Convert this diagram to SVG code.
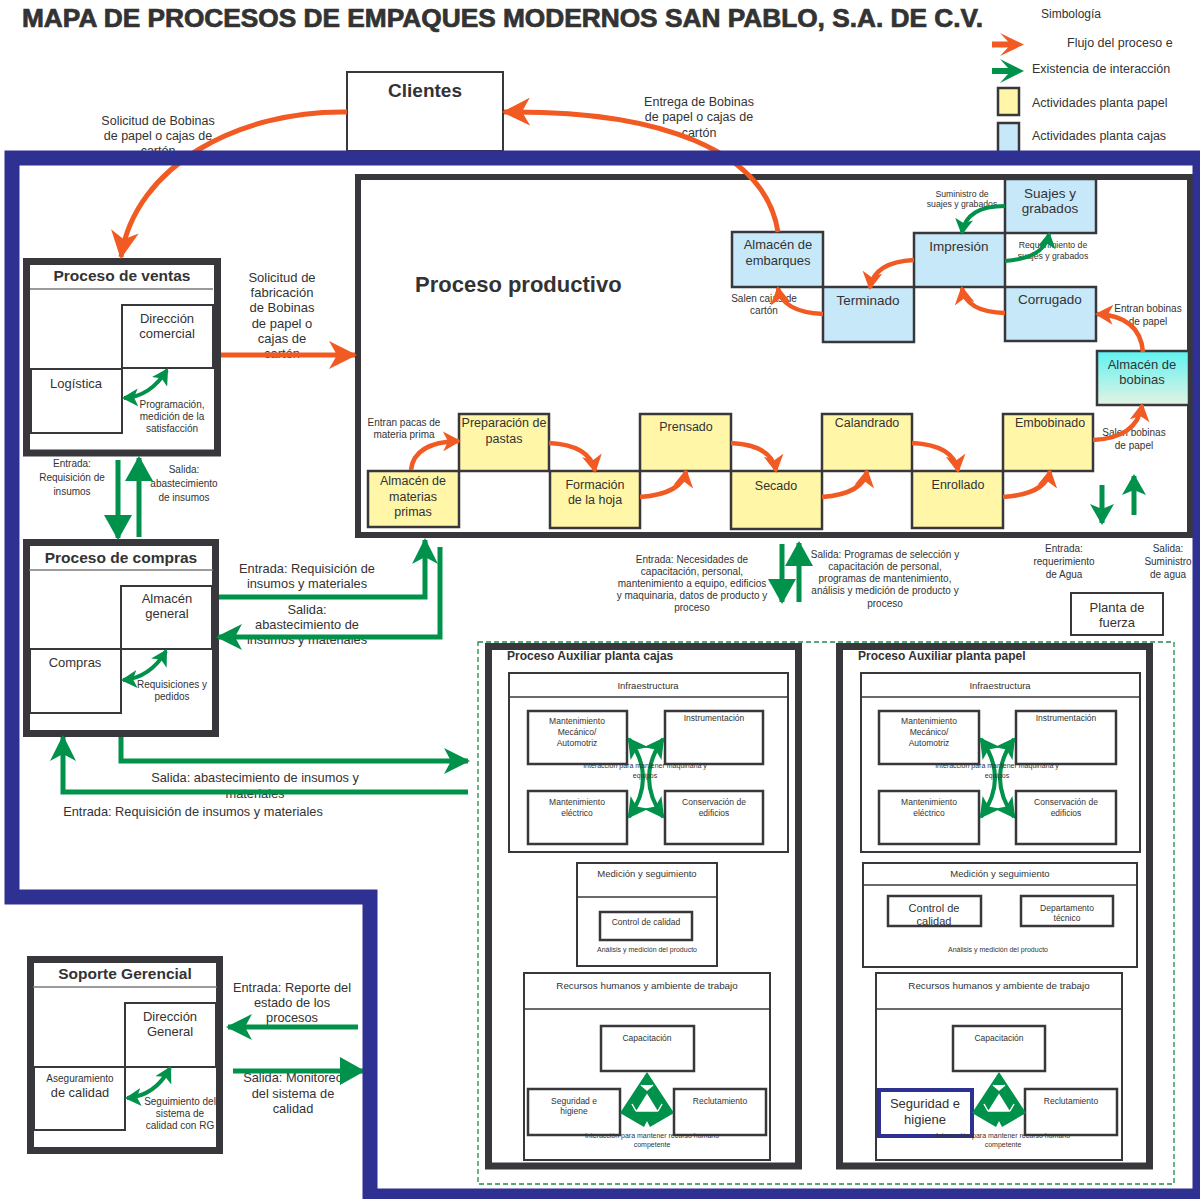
<svg xmlns="http://www.w3.org/2000/svg" width="1200" height="1199" viewBox="0 0 1200 1199">
<defs>
<style>
text{font-family:"Liberation Sans",Arial,Helvetica,sans-serif;fill:#333}
.c{text-anchor:middle}
.bd{font-weight:bold}
.fr{fill:#fff;stroke:#38373b;stroke-width:7}
.fr6{fill:#fff;stroke:#38373b;stroke-width:6}
.ln{stroke:#7a7a7a;stroke-width:1.5;fill:none}
.bx{fill:#fff;stroke:#38373b;stroke-width:2}
.bx2{fill:#fff;stroke:#38373b;stroke-width:2.5}
.yb{fill:#fff6a8;stroke:#38373b;stroke-width:2.5}
.bb{fill:#c7e8f8;stroke:#38373b;stroke-width:2.5}
.or{fill:none;stroke:#f15a22;stroke-width:5}
.ors{fill:none;stroke:#f15a22;stroke-width:4.5}
.gr{fill:none;stroke:#00914a;stroke-width:5}
.grs{fill:none;stroke:#00914a;stroke-width:4}
.grt{fill:none;stroke:#00914a;stroke-width:4}
</style>
<linearGradient id="gbob" x1="0" y1="0" x2="0" y2="1">
<stop offset="0" stop-color="#5ff2f2"/>
<stop offset="1" stop-color="#e3f3e2"/>
</linearGradient>
<clipPath id="ccp"><rect x="889" y="897" width="91" height="28"/></clipPath>
<marker id="mo" markerUnits="userSpaceOnUse" viewBox="0 0 28 28" refX="26" refY="14" markerWidth="28" markerHeight="28" orient="auto"><path d="M0,0 L28,14 L0,28 L8,14 Z" fill="#f15a22"/></marker>
<marker id="mos" markerUnits="userSpaceOnUse" viewBox="0 0 18 20" refX="16" refY="10" markerWidth="18" markerHeight="20" orient="auto"><path d="M0,0 L18,10 L0,20 L5,10 Z" fill="#f15a22"/></marker>
<marker id="mgb" markerUnits="userSpaceOnUse" viewBox="0 0 25 28" refX="23" refY="14" markerWidth="25" markerHeight="28" orient="auto"><path d="M0,0 L25,14 L0,28 Z" fill="#00914a"/></marker>
<marker id="mgn" markerUnits="userSpaceOnUse" viewBox="0 0 26 26" refX="24" refY="13" markerWidth="26" markerHeight="26" orient="auto"><path d="M0,0 L26,13 L0,26 L7,13 Z" fill="#00914a"/></marker>
<marker id="mgm" markerUnits="userSpaceOnUse" viewBox="0 0 21 24" refX="19" refY="12" markerWidth="21" markerHeight="24" orient="auto"><path d="M0,0 L21,12 L0,24 L5,12 Z" fill="#00914a"/></marker>
<marker id="mgs" markerUnits="userSpaceOnUse" viewBox="0 0 16 18" refX="14" refY="9" markerWidth="16" markerHeight="18" orient="auto-start-reverse"><path d="M0,0 L16,9 L0,18 L4,9 Z" fill="#00914a"/></marker>
<marker id="mgs1" markerUnits="userSpaceOnUse" viewBox="0 0 16 18" refX="14" refY="9" markerWidth="16" markerHeight="18" orient="auto"><path d="M0,0 L16,9 L0,18 L4,9 Z" fill="#00914a"/></marker>
<marker id="mgt" markerUnits="userSpaceOnUse" viewBox="0 0 20 22" refX="18" refY="11" markerWidth="20" markerHeight="22" orient="auto-start-reverse"><path d="M0,0 L20,11 L0,22 L5,11 Z" fill="#00914a"/></marker>
</defs>
<rect x="0" y="0" width="1200" height="1199" fill="#fff"/>

<text x="22" y="27" font-size="25" class="bd" textLength="961" lengthAdjust="spacingAndGlyphs" stroke="#333" stroke-width="0.7">MAPA DE PROCESOS DE EMPAQUES MODERNOS SAN PABLO, S.A. DE C.V.</text>

<g id="legend">
<text x="1041" y="18" font-size="12">Simbología</text>
<path d="M992,41.5 H1008 L1000,33 L1024,44.5 L1000,56 L1008,47.5 H992 Z" fill="#f15a22"/>
<text x="1067" y="47" font-size="12.5">Flujo del proceso e</text>
<path d="M992,68 H1008 L1000,59 L1024,71 L1000,83 L1008,74 H992 Z" fill="#00914a"/>
<text x="1032" y="73" font-size="12.5">Existencia de interacción</text>
<rect x="998" y="88" width="21" height="27" class="yb"/>
<text x="1032" y="107" font-size="12.5">Actividades planta papel</text>
<rect x="998" y="123" width="21" height="32" class="bb"/>
<text x="1032" y="140" font-size="12.5">Actividades planta cajas</text>
</g>

<g id="clientes">
<rect x="347" y="72" width="156" height="79" class="bx"/>
<text x="425" y="97" font-size="19" class="c bd">Clientes</text>
</g>

<g id="ventas">
<rect x="26.5" y="261.5" width="191" height="191.5" class="fr"/>
<line x1="30" y1="289" x2="213" y2="289" class="ln"/>
<text x="122" y="281" font-size="15.5" class="c bd">Proceso de ventas</text>
<rect x="122" y="305" width="91" height="63" class="bx"/>
<text x="167" y="323" font-size="13" class="c">Dirección</text>
<text x="167" y="338" font-size="13" class="c">comercial</text>
<rect x="31" y="369" width="91" height="64" class="bx"/>
<text x="76" y="388" font-size="13" class="c">Logística</text>
<text x="172" y="408" font-size="10" class="c">Programación,</text>
<text x="172" y="420" font-size="10" class="c">medición de la</text>
<text x="172" y="432" font-size="10" class="c">satisfacción</text>
</g>

<g id="compras">
<rect x="26.5" y="542.5" width="189" height="191" class="fr"/>
<line x1="29" y1="570" x2="213" y2="570" class="ln"/>
<text x="121" y="563" font-size="15.5" class="c bd">Proceso de compras</text>
<rect x="121" y="586" width="91" height="63" class="bx"/>
<text x="167" y="603" font-size="13" class="c">Almacén</text>
<text x="167" y="618" font-size="13" class="c">general</text>
<rect x="30" y="649" width="91" height="64" class="bx"/>
<text x="75" y="667" font-size="13" class="c">Compras</text>
<text x="172" y="688" font-size="10" class="c">Requisiciones y</text>
<text x="172" y="700" font-size="10" class="c">pedidos</text>
</g>

<g id="soporte">
<rect x="30.5" y="959.5" width="189" height="191" class="fr"/>
<line x1="33" y1="987" x2="217" y2="987" class="ln"/>
<text x="125" y="979" font-size="15.5" class="c bd">Soporte Gerencial</text>
<rect x="125" y="1003" width="91" height="64" class="bx"/>
<text x="170" y="1021" font-size="13" class="c">Dirección</text>
<text x="170" y="1036" font-size="13" class="c">General</text>
<rect x="34" y="1067" width="91" height="63" class="bx"/>
<text x="80" y="1082" font-size="10" class="c">Aseguramiento</text>
<text x="80" y="1097" font-size="12.8" class="c">de calidad</text>
<text x="180" y="1105" font-size="10" class="c">Seguimiento del</text>
<text x="180" y="1117" font-size="10" class="c">sistema de</text>
<text x="180" y="1129" font-size="10" class="c">calidad con RG</text>
</g>

<g id="productivo">
<rect x="358" y="177" width="832" height="358" class="fr6"/>
<text x="415" y="292" font-size="22" class="bd">Proceso productivo</text>
</g>

<g id="suajes"><rect x="1005" y="179" width="91" height="54" class="bb"/>
<text x="1050" y="198" font-size="13.5" class="c">Suajes y</text><text x="1050" y="213" font-size="13.5" class="c">grabados</text></g>
<g id="embarques"><rect x="732" y="232" width="91" height="55" class="bb"/>
<text x="778" y="249" font-size="13" class="c">Almacén de</text><text x="778" y="265" font-size="13" class="c">embarques</text></g>
<g id="impresion"><rect x="914" y="233" width="91" height="54" class="bb"/>
<text x="959" y="251" font-size="13.5" class="c">Impresión</text></g>
<g id="terminado"><rect x="823" y="287" width="91" height="55" class="bb"/>
<text x="868" y="305" font-size="13.5" class="c">Terminado</text></g>
<g id="corrugado"><rect x="1005" y="287" width="91" height="54" class="bb"/>
<text x="1050" y="304" font-size="13.5" class="c">Corrugado</text></g>
<g id="bobinas"><rect x="1097" y="351" width="92" height="54" fill="url(#gbob)" stroke="#38373b" stroke-width="2.5"/>
<text x="1142" y="369" font-size="13" class="c">Almacén de</text><text x="1142" y="384" font-size="13" class="c">bobinas</text></g>

<g id="materias"><rect x="368" y="471" width="91" height="56" class="yb"/>
<text x="413" y="485" font-size="12.5" class="c">Almacén de</text><text x="413" y="501" font-size="12.5" class="c">materias</text><text x="413" y="516" font-size="12.5" class="c">primas</text></g>
<g id="preparacion"><rect x="459" y="414" width="90" height="57" class="yb"/>
<text x="504" y="427" font-size="12.5" class="c">Preparación de</text><text x="504" y="443" font-size="12.5" class="c">pastas</text></g>
<g id="formacion"><rect x="550" y="471" width="90" height="57" class="yb"/>
<text x="595" y="489" font-size="12.5" class="c">Formación</text><text x="595" y="504" font-size="12.5" class="c">de la hoja</text></g>
<g id="prensado"><rect x="640" y="414" width="91" height="57" class="yb"/>
<text x="686" y="431" font-size="12.5" class="c">Prensado</text></g>
<g id="secado"><rect x="731" y="471" width="91" height="58" class="yb"/>
<text x="776" y="490" font-size="12.5" class="c">Secado</text></g>
<g id="calandrado"><rect x="822" y="414" width="90" height="57" class="yb"/>
<text x="867" y="427" font-size="12.5" class="c">Calandrado</text></g>
<g id="enrollado"><rect x="912" y="471" width="91" height="57" class="yb"/>
<text x="958" y="489" font-size="12.5" class="c">Enrollado</text></g>
<g id="embobinado"><rect x="1003" y="414" width="90" height="57" class="yb"/>
<text x="1050" y="427" font-size="12.5" class="c">Embobinado</text></g>

<g id="planta-fuerza"><rect x="1071" y="593" width="92" height="42" class="bx"/>
<text x="1117" y="612" font-size="13" class="c">Planta de</text><text x="1117" y="627" font-size="13" class="c">fuerza</text></g>

<rect x="478" y="642" width="696" height="542" fill="none" stroke="#1e8a4c" stroke-width="1.3" stroke-dasharray="5 3"/>

<g id="aux-cajas">
<rect x="488.5" y="646.5" width="310" height="519.5" class="fr"/>
<text x="507" y="660" font-size="12" class="bd">Proceso Auxiliar planta cajas</text>
<rect x="509" y="673" width="279" height="179" class="bx"/>
<line x1="509" y1="697" x2="788" y2="697" stroke="#38373b" stroke-width="1.5"/>
<text x="648" y="689" font-size="9.5" class="c">Infraestructura</text>
<rect x="528" y="711" width="99" height="53" class="bx2"/>
<text x="577" y="724" font-size="8.5" class="c">Mantenimiento</text><text x="577" y="735" font-size="8.5" class="c">Mecánico/</text><text x="577" y="746" font-size="8.5" class="c">Automotriz</text>
<rect x="665" y="711" width="98" height="53" class="bx2"/>
<text x="714" y="721" font-size="8.5" class="c">Instrumentación</text>
<rect x="528" y="791" width="99" height="53" class="bx2"/>
<text x="577" y="805" font-size="8.5" class="c">Mantenimiento</text><text x="577" y="816" font-size="8.5" class="c">eléctrico</text>
<rect x="665" y="791" width="98" height="53" class="bx2"/>
<text x="714" y="805" font-size="8.5" class="c">Conservación de</text><text x="714" y="816" font-size="8.5" class="c">edificios</text>
<rect x="577" y="863" width="140" height="103" class="bx"/>
<line x1="577" y1="897" x2="717" y2="897" stroke="#38373b" stroke-width="1.5"/>
<text x="647" y="877" font-size="9.5" class="c">Medición y seguimiento</text>
<rect x="600" y="912" width="92" height="28" class="bx2"/>
<text x="646" y="925" font-size="8.5" class="c">Control de calidad</text>
<text x="647" y="952" font-size="7" class="c">Análisis y medición del producto</text>
<rect x="524" y="973" width="246" height="187" class="bx"/>
<line x1="524" y1="1009" x2="770" y2="1009" stroke="#38373b" stroke-width="1.5"/>
<text x="647" y="989" font-size="9.8" class="c">Recursos humanos y ambiente  de trabajo</text>
<rect x="601" y="1026" width="93" height="45" class="bx2"/>
<text x="647" y="1041" font-size="8.5" class="c">Capacitación</text>
<rect x="528" y="1089" width="92" height="46" class="bx2"/>
<text x="574" y="1104" font-size="8.5" class="c">Seguridad e</text><text x="574" y="1114" font-size="8.5" class="c">higiene</text>
<rect x="674" y="1089" width="92" height="46" class="bx2"/>
<text x="720" y="1104" font-size="8.5" class="c">Reclutamiento</text>
</g>

<g id="aux-papel">
<rect x="839.5" y="646.5" width="310" height="519.5" class="fr"/>
<text x="858" y="660" font-size="12" class="bd">Proceso Auxiliar planta papel</text>
<rect x="861" y="673" width="279" height="179" class="bx"/>
<line x1="861" y1="697" x2="1140" y2="697" stroke="#38373b" stroke-width="1.5"/>
<text x="1000" y="689" font-size="9.5" class="c">Infraestructura</text>
<rect x="879" y="711" width="100" height="53" class="bx2"/>
<text x="929" y="724" font-size="8.5" class="c">Mantenimiento</text><text x="929" y="735" font-size="8.5" class="c">Mecánico/</text><text x="929" y="746" font-size="8.5" class="c">Automotriz</text>
<rect x="1016" y="711" width="100" height="53" class="bx2"/>
<text x="1066" y="721" font-size="8.5" class="c">Instrumentación</text>
<rect x="879" y="791" width="100" height="53" class="bx2"/>
<text x="929" y="805" font-size="8.5" class="c">Mantenimiento</text><text x="929" y="816" font-size="8.5" class="c">eléctrico</text>
<rect x="1016" y="791" width="100" height="53" class="bx2"/>
<text x="1066" y="805" font-size="8.5" class="c">Conservación de</text><text x="1066" y="816" font-size="8.5" class="c">edificios</text>
<rect x="863" y="863" width="274" height="104" class="bx"/>
<line x1="863" y1="885" x2="1137" y2="885" stroke="#38373b" stroke-width="1.5"/>
<text x="1000" y="877" font-size="9.5" class="c">Medición y seguimiento</text>
<rect x="888" y="896" width="93" height="30" class="bx2"/>
<g clip-path="url(#ccp)"><text x="934" y="912" font-size="11" class="c">Control de</text><text x="934" y="925" font-size="11" class="c">calidad</text></g>
<rect x="1021" y="896" width="92" height="30" class="bx2"/>
<text x="1067" y="911" font-size="8.5" class="c">Departamento</text><text x="1067" y="921" font-size="8.5" class="c">técnico</text>
<text x="998" y="952" font-size="7" class="c">Análisis y medición del producto</text>
<rect x="876" y="973" width="246" height="187" class="bx"/>
<line x1="876" y1="1009" x2="1122" y2="1009" stroke="#38373b" stroke-width="1.5"/>
<text x="999" y="989" font-size="9.8" class="c">Recursos humanos y ambiente  de trabajo</text>
<rect x="953" y="1026" width="92" height="45" class="bx2"/>
<text x="999" y="1041" font-size="8.5" class="c">Capacitación</text>
<rect x="879" y="1090" width="93" height="46" fill="#fff" stroke="#2e3192" stroke-width="4"/>
<text x="925" y="1108" font-size="13" class="c">Seguridad e</text><text x="925" y="1124" font-size="13" class="c">higiene</text>
<rect x="1025" y="1089" width="92" height="46" class="bx2"/>
<text x="1071" y="1104" font-size="8.5" class="c">Reclutamiento</text>
</g>

<g id="labels">
<text x="158" y="125" font-size="12.5" class="c">Solicitud de Bobinas</text>
<text x="158" y="140" font-size="12.5" class="c">de papel o cajas de</text>
<text x="158" y="155" font-size="12.5" class="c">cartón</text>
<text x="699" y="106" font-size="12.5" class="c">Entrega de Bobinas</text>
<text x="699" y="121" font-size="12.5" class="c">de papel o cajas de</text>
<text x="699" y="137" font-size="12.5" class="c">cartón</text>
<text x="282" y="282" font-size="13" class="c">Solicitud de</text>
<text x="282" y="297" font-size="13" class="c">fabricación</text>
<text x="282" y="312" font-size="13" class="c">de Bobinas</text>
<text x="282" y="328" font-size="13" class="c">de papel o</text>
<text x="282" y="343" font-size="13" class="c">cajas de</text>
<text x="282" y="358" font-size="13" class="c">cartón</text>
<text x="72" y="467" font-size="10" class="c">Entrada:</text>
<text x="72" y="481" font-size="10" class="c">Requisición de</text>
<text x="72" y="495" font-size="10" class="c">insumos</text>
<text x="184" y="473" font-size="10" class="c">Salida:</text>
<text x="184" y="487" font-size="10" class="c">abastecimiento</text>
<text x="184" y="501" font-size="10" class="c">de insumos</text>
<text x="307" y="573" font-size="12.8" class="c">Entrada: Requisición de</text>
<text x="307" y="588" font-size="12.8" class="c">insumos y materiales</text>
<text x="307" y="614" font-size="12.8" class="c">Salida:</text>
<text x="307" y="629" font-size="12.8" class="c">abastecimiento de</text>
<text x="307" y="644" font-size="12.8" class="c">insumos y materiales</text>
<text x="255" y="782" font-size="12.8" class="c">Salida: abastecimiento de insumos y</text>
<text x="255" y="798" font-size="12.8" class="c">materiales</text>
<text x="193" y="816" font-size="12.8" class="c">Entrada: Requisición de insumos y materiales</text>
<text x="292" y="992" font-size="12.8" class="c">Entrada: Reporte del</text>
<text x="292" y="1007" font-size="12.8" class="c">estado de los</text>
<text x="292" y="1022" font-size="12.8" class="c">procesos</text>
<text x="293" y="1082" font-size="12.8" class="c">Salida: Monitoreo</text>
<text x="293" y="1098" font-size="12.8" class="c">del sistema de</text>
<text x="293" y="1113" font-size="12.8" class="c">calidad</text>
<text x="962" y="197" font-size="8.7" class="c">Suministro de</text>
<text x="962" y="207" font-size="8.7" class="c">suajes y grabados</text>
<text x="1053" y="248" font-size="8.7" class="c">Requerimiento de</text>
<text x="1053" y="259" font-size="8.7" class="c">suajes y grabados</text>
<text x="764" y="302" font-size="10" class="c">Salen cajas de</text>
<text x="764" y="314" font-size="10" class="c">cartón</text>
<text x="1148" y="312" font-size="10" class="c">Entran bobinas</text>
<text x="1148" y="325" font-size="10" class="c">de papel</text>
<text x="404" y="426" font-size="10" class="c">Entran pacas de</text>
<text x="404" y="438" font-size="10" class="c">materia prima</text>
<text x="1134" y="436" font-size="10" class="c">Salen bobinas</text>
<text x="1134" y="449" font-size="10" class="c">de papel</text>
<text x="692" y="563" font-size="10" class="c">Entrada: Necesidades de</text>
<text x="692" y="575" font-size="10" class="c">capacitación, personal,</text>
<text x="692" y="587" font-size="10" class="c">mantenimiento a equipo, edificios</text>
<text x="692" y="599" font-size="10" class="c">y maquinaria, datos de producto y</text>
<text x="692" y="611" font-size="10" class="c">proceso</text>
<text x="885" y="558" font-size="10" class="c">Salida: Programas de selección y</text>
<text x="885" y="570" font-size="10" class="c">capacitación de personal,</text>
<text x="885" y="582" font-size="10" class="c">programas de mantenimiento,</text>
<text x="885" y="594" font-size="10" class="c">análisis y medición de producto y</text>
<text x="885" y="607" font-size="10" class="c">proceso</text>
<text x="1064" y="552" font-size="10" class="c">Entrada:</text>
<text x="1064" y="565" font-size="10" class="c">requerimiento</text>
<text x="1064" y="578" font-size="10" class="c">de Agua</text>
<text x="1168" y="552" font-size="10" class="c">Salida:</text>
<text x="1168" y="565" font-size="10" class="c">Suministro</text>
<text x="1168" y="578" font-size="10" class="c">de agua</text>
</g>

<g id="connectors">
<path d="M347,112 C240,110 135,165 121,257" class="or" marker-end="url(#mo)"/>
<path d="M778,232 C765,150 660,110 504,112" class="or" marker-end="url(#mo)"/>
<line x1="221" y1="355" x2="355" y2="355" class="or" stroke-width="6" marker-end="url(#mo)"/>
<path d="M1005,313 Q966,312 962,288" class="ors" marker-end="url(#mos)"/>
<path d="M914,260 Q874,262 870,288" class="ors" marker-end="url(#mos)"/>
<path d="M823,314 Q782,312 778,288" class="ors" marker-end="url(#mos)"/>
<path d="M1143,352 Q1140,316 1097,314" class="ors" marker-end="url(#mos)"/>
<path d="M411,470 Q414,442 459,441" class="ors" marker-end="url(#mos)"/>
<path d="M549,443 Q590,445 595,471" class="ors" marker-end="url(#mos)"/>
<path d="M640,497 Q682,494 686,471" class="ors" marker-end="url(#mos)"/>
<path d="M731,443 Q772,445 776,471" class="ors" marker-end="url(#mos)"/>
<path d="M822,497 Q863,494 867,471" class="ors" marker-end="url(#mos)"/>
<path d="M912,443 Q954,445 958,471" class="ors" marker-end="url(#mos)"/>
<path d="M1003,497 Q1046,494 1050,471" class="ors" marker-end="url(#mos)"/>
<path d="M1093,440 Q1137,438 1142,405" class="ors" marker-end="url(#mos)"/>
<path d="M1005,206 Q966,206 962,233" class="grs" marker-end="url(#mgs1)"/>
<path d="M1005,261 Q1045,258 1049,234" class="grs" marker-end="url(#mgs1)"/>
<path d="M124,398 Q150,397 167,370" class="grs" marker-start="url(#mgs)" marker-end="url(#mgs)"/>
<path d="M123,680 Q150,678 166,651" class="grs" marker-start="url(#mgs)" marker-end="url(#mgs)"/>
<path d="M127,1098 Q155,1096 170,1068" class="grs" marker-start="url(#mgs)" marker-end="url(#mgs)"/>
<line x1="118" y1="460" x2="118" y2="538" class="gr" stroke-width="6" marker-end="url(#mgb)"/>
<line x1="139" y1="537" x2="139" y2="458" class="gr" marker-end="url(#mgb)"/>
<polyline points="219,597 425,597 425,540" class="gr" marker-end="url(#mgn)"/>
<polyline points="440,547 440,637 218,637" class="gr" marker-end="url(#mgn)"/>
<polyline points="121,737 121,761 468,761" class="gr" marker-end="url(#mgn)"/>
<polyline points="468,792 63,792 63,737" class="gr" marker-end="url(#mgn)"/>
<line x1="782" y1="544" x2="782" y2="602" class="gr" stroke-width="6" marker-end="url(#mgb)"/>
<line x1="799" y1="602" x2="799" y2="543" class="gr" marker-end="url(#mgb)"/>
<line x1="1102" y1="485" x2="1102" y2="523" class="gr" stroke-width="4" marker-end="url(#mgm)"/>
<line x1="1134" y1="515" x2="1134" y2="476" class="gr" stroke-width="4" marker-end="url(#mgm)"/>
<line x1="358" y1="1027" x2="228" y2="1027" class="gr" stroke-width="6" marker-end="url(#mgn)"/>
<line x1="233" y1="1071" x2="363" y2="1071" class="gr" stroke-width="6" marker-end="url(#mgb)"/>
<path d="M629,739 Q657,778 629,817" class="grt" marker-start="url(#mgt)" marker-end="url(#mgt)"/>
<path d="M663,739 Q635,778 663,817" class="grt" marker-start="url(#mgt)" marker-end="url(#mgt)"/>
<path d="M981,739 Q1009,778 981,817" class="grt" marker-start="url(#mgt)" marker-end="url(#mgt)"/>
<path d="M1014,739 Q986,778 1014,817" class="grt" marker-start="url(#mgt)" marker-end="url(#mgt)"/>
<path d="M647,1072 L674,1113 L650,1127 L647,1121 L644,1127 L620,1113 Z" fill="#00914a"/>
<path d="M647,1095 L657,1111 L637,1111 Z M641,1085 L647,1090 L653,1085 M632,1104 L636,1111 M662,1104 L658,1111" fill="#fff" stroke="#fff" stroke-width="1.5"/>
<path d="M999,1072 L1026,1113 L1002,1127 L999,1121 L996,1127 L972,1113 Z" fill="#00914a"/>
<path d="M999,1095 L1009,1111 L989,1111 Z M993,1085 L999,1090 L1005,1085 M984,1104 L988,1111 M1014,1104 L1010,1111" fill="#fff" stroke="#fff" stroke-width="1.5"/>
</g>

<g id="small-labels">
<text x="645" y="768" font-size="7" class="c">Interacción para mantener maquinaria y</text>
<text x="645" y="778" font-size="7" class="c">equipos</text>
<text x="997" y="768" font-size="7" class="c">Interacción para mantener maquinaria y</text>
<text x="997" y="778" font-size="7" class="c">equipos</text>
<text x="652" y="1138" font-size="7" class="c">Interacción para mantener recurso humano</text>
<text x="652" y="1147" font-size="7" class="c">competente</text>
<text x="1003" y="1138" font-size="7" class="c">Interacción para mantener recurso humano</text>
<text x="1003" y="1147" font-size="7" class="c">competente</text>
</g>

<path id="border" d="M12,158 H1200 V1196 H370 V897 H12 Z" fill="none" stroke="#2e3192" stroke-width="15"/>
</svg>
